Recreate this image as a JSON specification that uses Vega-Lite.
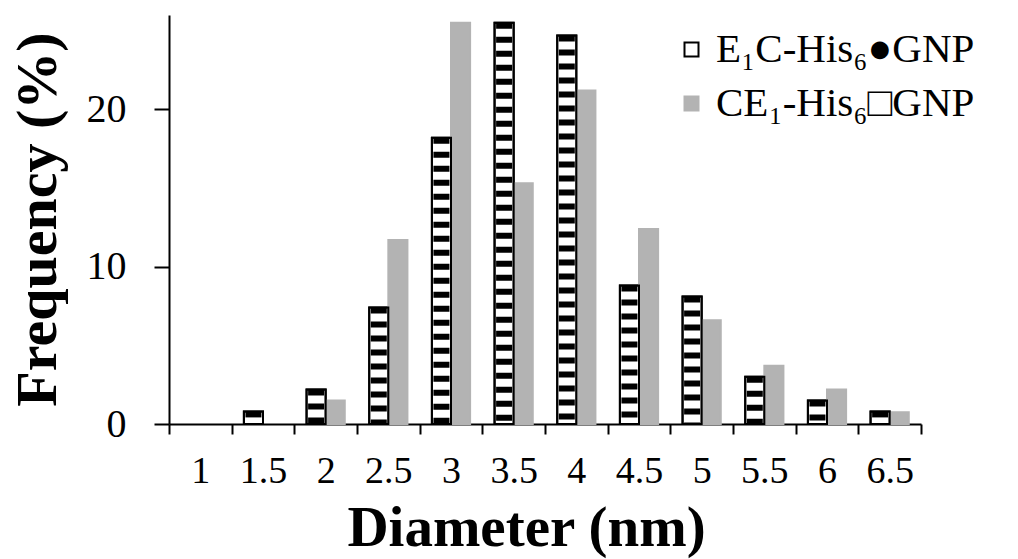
{
  "$schema": "https://vega.github.io/schema/vega-lite/v6.json",
  "width": 752,
  "height": 409,
  "autosize": {"type": "none"},
  "padding": {"left": 169, "top": 15, "right": 97, "bottom": 135},
  "background": "white",
  "config": {"view": {"stroke": null}, "font": "Liberation Serif"},
  "data": {
    "values": [
      {"d": "1", "s": "E1C", "v": 0},
      {"d": "1", "s": "CE1", "v": 0},
      {"d": "1.5", "s": "E1C", "v": 0.8},
      {"d": "1.5", "s": "CE1", "v": 0},
      {"d": "2", "s": "E1C", "v": 2.2},
      {"d": "2", "s": "CE1", "v": 1.5},
      {"d": "2.5", "s": "E1C", "v": 7.4},
      {"d": "2.5", "s": "CE1", "v": 11.7},
      {"d": "3", "s": "E1C", "v": 18.2},
      {"d": "3", "s": "CE1", "v": 25.5},
      {"d": "3.5", "s": "E1C", "v": 25.5},
      {"d": "3.5", "s": "CE1", "v": 15.3},
      {"d": "4", "s": "E1C", "v": 24.7},
      {"d": "4", "s": "CE1", "v": 21.2},
      {"d": "4.5", "s": "E1C", "v": 8.8},
      {"d": "4.5", "s": "CE1", "v": 12.4},
      {"d": "5", "s": "E1C", "v": 8.1},
      {"d": "5", "s": "CE1", "v": 6.6},
      {"d": "5.5", "s": "E1C", "v": 3.0},
      {"d": "5.5", "s": "CE1", "v": 3.7},
      {"d": "6", "s": "E1C", "v": 1.5},
      {"d": "6", "s": "CE1", "v": 2.2},
      {"d": "6.5", "s": "E1C", "v": 0.8},
      {"d": "6.5", "s": "CE1", "v": 0.75}
    ]
  },
  "encoding": {
    "x": {
      "field": "d",
      "type": "ordinal",
      "sort": null,
      "scale": {
        "domain": ["1", "1.5", "2", "2.5", "3", "3.5", "4", "4.5", "5", "5.5", "6", "6.5"],
        "paddingInner": 0,
        "paddingOuter": 0
      },
      "axis": {
        "title": "Diameter (nm)",
        "labelAngle": 0,
        "labelFont": "Liberation Serif",
        "labelFontSize": 38,
        "labelColor": "black",
        "labelBaseline": "alphabetic",
        "labelPadding": 48,
        "tickBand": "extent",
        "tickSize": 10,
        "tickWidth": 2,
        "tickColor": "black",
        "domainColor": "black",
        "domainWidth": 2,
        "titleFont": "Liberation Serif",
        "titleFontSize": 57,
        "titleFontWeight": "bold",
        "titleColor": "black",
        "titleX": 357,
        "titleY": 121,
        "titleAlign": "center",
        "titleBaseline": "alphabetic"
      }
    },
    "xOffset": {
      "field": "s",
      "type": "nominal",
      "scale": {"domain": ["E1C", "CE1"], "paddingInner": 0, "paddingOuter": 0.64}
    },
    "y": {
      "field": "v",
      "type": "quantitative",
      "scale": {"domain": [0, 26]},
      "axis": {
        "title": "Frequency (%)",
        "values": [0, 10, 20],
        "grid": false,
        "labelFont": "Liberation Serif",
        "labelFontSize": 40,
        "labelColor": "black",
        "labelPadding": 28,
        "tickSize": 15,
        "tickWidth": 2,
        "tickColor": "black",
        "domainColor": "black",
        "domainWidth": 2,
        "titleFont": "Liberation Serif",
        "titleFontSize": 58,
        "titleFontWeight": "bold",
        "titleColor": "black",
        "titleAngle": -90,
        "titleX": -131,
        "titleY": 204,
        "titleAlign": "center",
        "titleBaseline": "middle"
      }
    }
  },
  "layer": [
    {
      "transform": [{"filter": "datum.v > 0"}],
      "mark": {"type": "bar", "strokeWidth": 2},
      "encoding": {
        "fill": {
          "field": "s",
          "type": "nominal",
          "scale": {"domain": ["E1C", "CE1"], "range": ["#ffffff", "#b3b3b3"]},
          "legend": {
            "title": null,
            "orient": "none",
            "legendX": 502,
            "legendY": 14,
            "padding": 0,
            "symbolType": "square",
            "symbolSize": 196,
            "symbolStrokeWidth": 2,
            "labelFont": "Liberation Serif",
            "labelFontSize": 41,
            "labelColor": "black",
            "labelOffset": 4,
            "rowPadding": 12,
            "labelLimit": 400,
            "labelExpr": "datum.label == 'E1C' ? 'E₁C-His₆●GNP' : 'CE₁-His₆□GNP'"
          }
        },
        "stroke": {
          "field": "s",
          "type": "nominal",
          "scale": {"domain": ["E1C", "CE1"], "range": ["#000000", "#b3b3b3"]},
          "legend": {
            "title": null,
            "orient": "none",
            "legendX": 502,
            "legendY": 14,
            "padding": 0,
            "symbolType": "square",
            "symbolSize": 196,
            "symbolStrokeWidth": 2,
            "labelFont": "Liberation Serif",
            "labelFontSize": 41,
            "labelColor": "black",
            "labelOffset": 4,
            "rowPadding": 12,
            "labelLimit": 400,
            "labelExpr": "datum.label == 'E1C' ? 'E₁C-His₆●GNP' : 'CE₁-His₆□GNP'"
          }
        }
      }
    },
    {
      "transform": [{"filter": "datum.s == 'E1C' && datum.v > 0"}],
      "mark": {"type": "rule", "strokeWidth": 16, "strokeDash": [6, 8], "color": "black"},
      "encoding": {"y2": {"datum": 0}}
    },
    {
      "transform": [{"filter": "datum.s == 'E1C' && datum.v > 0"}],
      "mark": {"type": "bar", "fillOpacity": 0, "fill": "white", "stroke": "black", "strokeWidth": 2},
      "encoding": {}
    }
  ]
}
